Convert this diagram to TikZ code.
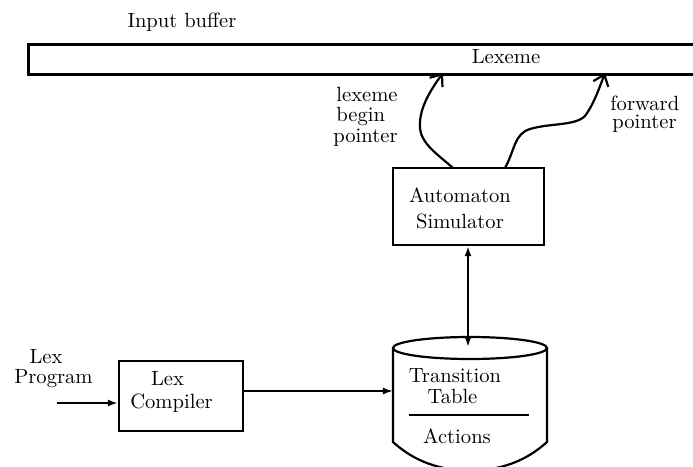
\documentclass[tikz,border=0pt]{standalone}
\usetikzlibrary{arrows.meta}
\begin{document}
\begin{tikzpicture}[x=0.5pt,y=-0.5pt,
  txt/.style={font=\fontsize{10.3pt}{12pt}\selectfont, inner sep=0pt},
  boxx/.style={draw, line width=1.1pt, inner sep=0pt},
  ptr/.style={line width=1.1pt, -{Straight Barb[length=5pt,width=8pt,line width=1.1pt]}},
  flow/.style={line width=1.1pt, -{Latex[length=5pt,width=3.5pt]}},
  bidir/.style={line width=1.1pt, {Latex[length=5pt,width=3.5pt]}-{Latex[length=5pt,width=3.5pt]}}]
\useasboundingbox (0,0) rectangle (693,467);
% input buffer
\node[txt, anchor=base] (ib) at (182,27) {Input buffer};
\node[draw, line width=1.3pt, inner sep=0pt, anchor=north west, minimum width=340pt, minimum height=15pt] (buf) at (27,43) {};
\node[txt, anchor=base] (lex) at (506,63) {Lexeme};
% automaton simulator
\node[boxx, minimum width=75.5pt, minimum height=38.5pt] (auto) at (468.5,206.5) {};
\node[txt, anchor=base] (auto1) at (460,202) {Automaton};
\node[txt, anchor=base] (auto2) at (460,228) {Simulator};
% pointer labels
\node[txt, anchor=base west] (lb1) at (336,101) {lexeme};
\node[txt, anchor=base west] (lb2) at (336,121) {begin};
\node[txt, anchor=base west] (lb3) at (333,142) {pointer};
\node[txt, anchor=base west] (fp1) at (610,110) {forward};
\node[txt, anchor=base west] (fp2) at (612,128) {pointer};
% pointer arrows
\coordinate (a1s) at (453,168);
\coordinate (a1e) at (443,73);
\coordinate (a2s) at (505,168);
\coordinate (a2e) at (605,73);
\draw[ptr] (a1s) .. controls (435,152) and (418,142) .. (420,122) .. controls (421,105) and (432,88) .. (a1e);
\draw[ptr] (a2s) .. controls (515,150) and (514,134) .. (530,129) .. controls (550,123) and (575,126) .. (585,116) .. controls (594,104) and (600,86) .. (a2e);
% lex compiler
\node[boxx, minimum width=62pt, minimum height=35pt] (lc) at (181,396) {};
\node[txt, anchor=base] (lc1) at (167.5,385) {Lex};
\node[txt, anchor=base] (lc2) at (171.5,408) {Compiler};
\node[txt, anchor=base] (lp1) at (46,363) {Lex};
\node[txt, anchor=base] (lp2) at (53.5,383) {Program};
\coordinate (lpin) at (57,403);
\draw[flow] (lpin) -- (lpin -| lc.west);
% cylinder
\coordinate (cyltop) at (470,348);
\draw[line width=1.1pt] (393,348) -- (393,442) .. controls (415,462) and (440,470) .. (470,471) .. controls (500,470) and (525,462) .. (547,442) -- (547,348);
\draw[line width=1.1pt] (cyltop) ellipse [x radius=38.5pt, y radius=5.5pt];
\coordinate (cylleft) at (393,391);
\draw[line width=1.1pt] (409,415) -- (529,415);
\node[txt, anchor=base] (tt1) at (455,382) {Transition};
\node[txt, anchor=base] (tt2) at (452.5,403) {Table};
\node[txt, anchor=base] (act) at (457,443) {Actions};
\draw[flow] (lc.east |- cylleft) -- (cylleft);
\coordinate (cylin) at (468,347);
\draw[bidir] (auto.south -| cylin) -- (cylin);
\end{tikzpicture}
\end{document}
